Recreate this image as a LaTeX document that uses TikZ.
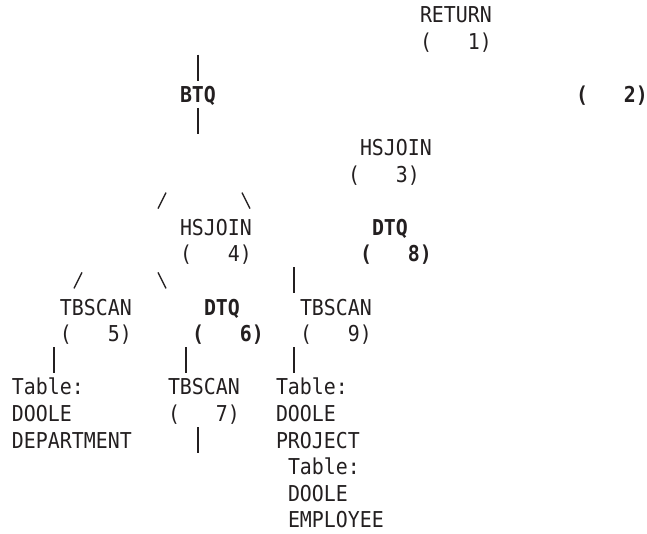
\documentclass[tikz,border=0pt]{standalone}
\usepackage{fontspec}
\newfontfamily\explainfont{DejaVu Sans Mono}[FakeStretch=0.91]
\definecolor{ink}{RGB}{35,31,32}
\newcommand\blank{\phantom{0}}
% text fragment: name, column, line, text
\newcommand\tx[4]{\node[txt] (#1) at ({12+12*#2},{22.4+26.6*#3}) {#4};}
% vertical bar: name, column, line
\newcommand\vbarat[3]{\coordinate (#1a) at ({18+12*#2},{1.4+26.6*#3});
  \coordinate (#1b) at ({18+12*#2},{27.4+26.6*#3});
  \draw[conn] (#1a) -- (#1b);}
% forward slash
\newcommand\fwdat[3]{\coordinate (#1a) at ({14+12*#2},{22.4+26.6*#3});
  \coordinate (#1b) at ({22+12*#2},{6.4+26.6*#3});
  \draw[conn] (#1a) -- (#1b);}
% backslash
\newcommand\bwdat[3]{\coordinate (#1a) at ({14+12*#2},{6.4+26.6*#3});
  \coordinate (#1b) at ({22+12*#2},{22.4+26.6*#3});
  \draw[conn] (#1a) -- (#1b);}
\begin{document}
\begin{tikzpicture}[x=0.75pt,y=-0.75pt,
  txt/.style={anchor=base west, inner sep=0pt, outer sep=0pt, text=ink,
    font=\explainfont\fontsize{16.4pt}{20pt}\selectfont},
  conn/.style={draw=ink, line width=0.95pt}]
\useasboundingbox[fill=white] (0,0) rectangle (647,533);
% line 0-1
\tx{ret}{34}{0}{RETURN}
\tx{retn}{34}{1}{(\blank\blank\blank1)}
% line 2-4
\vbarat{b1}{15}{2}
\tx{btq}{14}{3}{\bfseries BTQ}
\tx{btqn}{47}{3}{\bfseries(\blank\blank\blank2)}
\vbarat{b2}{15}{4}
% line 5-6
\tx{hs3}{29}{5}{HSJOIN}
\tx{hs3n}{28}{6}{(\blank\blank\blank3)}
% line 7
\fwdat{s1}{12}{7}
\bwdat{s2}{19}{7}
% line 8-9
\tx{hs4}{14}{8}{HSJOIN}
\tx{dtq8}{30}{8}{\bfseries DTQ}
\tx{hs4n}{14}{9}{(\blank\blank\blank4)}
\tx{dtq8n}{29}{9}{\bfseries(\blank\blank\blank8)}
% line 10
\fwdat{s3}{5}{10}
\bwdat{s4}{12}{10}
\vbarat{b3}{23}{10}
% line 11-12
\tx{tb5}{4}{11}{TBSCAN}
\tx{dtq6}{16}{11}{\bfseries DTQ}
\tx{tb9}{24}{11}{TBSCAN}
\tx{tb5n}{4}{12}{(\blank\blank\blank5)}
\tx{dtq6n}{15}{12}{\bfseries(\blank\blank\blank6)}
\tx{tb9n}{24}{12}{(\blank\blank\blank9)}
% line 13
\vbarat{b4}{3}{13}
\vbarat{b5}{14}{13}
\vbarat{b6}{23}{13}
% line 14-16
\tx{t1a}{0}{14}{Table:}
\tx{tb7}{13}{14}{TBSCAN}
\tx{t2a}{22}{14}{Table:}
\tx{t1b}{0}{15}{DOOLE}
\tx{tb7n}{13}{15}{(\blank\blank\blank7)}
\tx{t2b}{22}{15}{DOOLE}
\tx{t1c}{0}{16}{DEPARTMENT}
\vbarat{b7}{15}{16}
\tx{t2c}{22}{16}{PROJECT}
% line 17-19
\tx{t3a}{23}{17}{Table:}
\tx{t3b}{23}{18}{DOOLE}
\tx{t3c}{23}{19}{EMPLOYEE}
\end{tikzpicture}
\end{document}
